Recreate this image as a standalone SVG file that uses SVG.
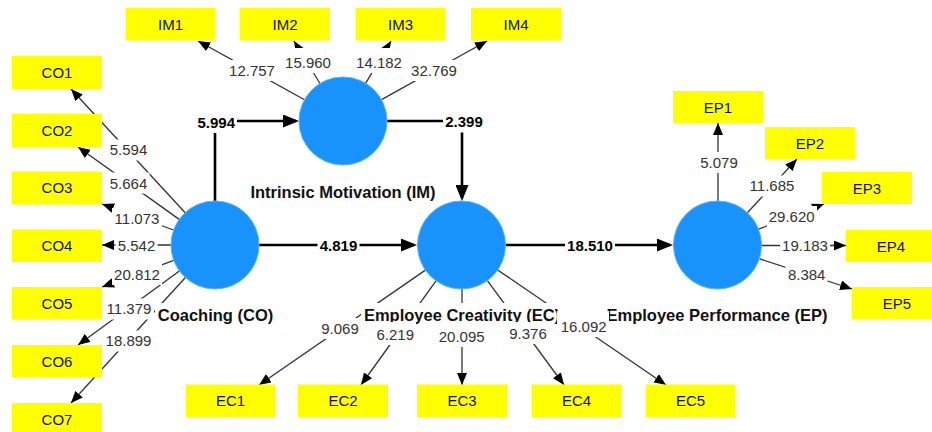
<svg xmlns="http://www.w3.org/2000/svg" width="932" height="432" viewBox="0 0 932 432">
<style>
text{font-family:"Liberation Sans",Arial,sans-serif}
.ind{stroke:#333;stroke-width:1.3;fill:none;marker-end:url(#ah)}
.str{stroke:#000;stroke-width:2.6;fill:none;marker-end:url(#ahb)}
.lv circle{fill:#1793fb;stroke:#5bb0fc;stroke-width:1}
.bx rect{fill:#ffff00}
.bx text{font-size:15px;fill:#111;text-anchor:middle}
.bg{fill:#fff}
.t{font-size:16.5px;font-weight:bold;fill:#111;text-anchor:middle}
.l{font-size:15px;fill:#333;text-anchor:middle}
.lb{font-size:15px;font-weight:bold;fill:#000;text-anchor:middle}
</style>
<defs>
<marker id="ah" viewBox="0 0 12 10" markerWidth="12" markerHeight="10" refX="12" refY="5" orient="auto" markerUnits="userSpaceOnUse"><path d="M0,0L12,5L0,10z" fill="#000"/></marker>
<marker id="ahb" viewBox="0 0 16 13" markerWidth="16" markerHeight="13" refX="13" refY="6.5" orient="auto" markerUnits="userSpaceOnUse"><path d="M0,0L16,6.5L0,13z" fill="#000"/></marker>
</defs>
<rect width="932" height="432" fill="#fff"/>
<g id="connectors">
<line class="ind" x1="304.5" y1="99.7" x2="198" y2="41"/>
<line class="ind" x1="320" y1="83.5" x2="294" y2="41"/>
<line class="ind" x1="365.6" y1="83.3" x2="391" y2="41"/>
<line class="ind" x1="381.5" y1="99.6" x2="487" y2="41"/>
<line class="ind" x1="185.2" y1="212.7" x2="71" y2="89"/>
<line class="ind" x1="179.2" y1="219.4" x2="78" y2="147"/>
<line class="ind" x1="173.6" y1="230" x2="102" y2="204"/>
<line class="ind" x1="171" y1="245" x2="102" y2="245"/>
<line class="ind" x1="173.8" y1="260.3" x2="102" y2="287"/>
<line class="ind" x1="179.4" y1="271" x2="78" y2="345"/>
<line class="ind" x1="185.4" y1="277.5" x2="71" y2="403"/>
<line class="ind" x1="425.4" y1="270.1" x2="259" y2="385"/>
<line class="ind" x1="436" y1="280.8" x2="361" y2="385"/>
<line class="ind" x1="462" y1="289" x2="462" y2="385"/>
<line class="ind" x1="487.4" y1="280.6" x2="564" y2="385"/>
<line class="ind" x1="497.7" y1="270" x2="666" y2="385"/>
<line class="ind" x1="718" y1="201" x2="718" y2="123"/>
<line class="ind" x1="747.4" y1="212.7" x2="797" y2="159"/>
<line class="ind" x1="758.6" y1="229.2" x2="824" y2="204"/>
<line class="ind" x1="761.5" y1="245.5" x2="846" y2="245.5"/>
<line class="ind" x1="759.3" y1="258.7" x2="852" y2="289"/>
<polyline class="str" points="215,201 215,121 296,121"/>
<polyline class="str" points="387,121 462,121 462,198"/>
<line class="str" x1="259" y1="245" x2="414" y2="245"/>
<line class="str" x1="506" y1="245" x2="670" y2="245"/>
</g>
<g id="node-co" class="lv"><circle cx="215" cy="245" r="44"/><rect class="bg" x="155" y="303" width="121" height="24"/><text class="t" x="215.5" y="321">Coaching (CO)</text></g>
<g id="node-im" class="lv"><circle cx="343" cy="121" r="44"/><rect class="bg" x="248" y="180" width="190" height="24"/><text class="t" x="343" y="198">Intrinsic Motivation (IM)</text></g>
<g id="node-ec" class="lv"><circle cx="461.5" cy="245" r="44"/><rect class="bg" x="361" y="303" width="202" height="22"/><text class="t" x="462" y="321">Employee Creativity (EC)</text></g>
<g id="node-ep" class="lv"><circle cx="717.5" cy="245" r="44"/><rect class="bg" x="605" y="303" width="225" height="24"/><text class="t" x="717" y="321">Employee Performance (EP)</text></g>
<g id="node-im1" class="bx"><rect x="126" y="8" width="89" height="32.5"/><text x="170.5" y="29.8">IM1</text></g>
<g id="node-im2" class="bx"><rect x="240" y="8" width="90" height="32.5"/><text x="285" y="29.8">IM2</text></g>
<g id="node-im3" class="bx"><rect x="356" y="8" width="89" height="32.5"/><text x="400.5" y="29.8">IM3</text></g>
<g id="node-im4" class="bx"><rect x="471" y="8" width="90" height="32.5"/><text x="516" y="29.8">IM4</text></g>
<g id="node-co1" class="bx"><rect x="12" y="56" width="90" height="33"/><text x="57" y="77.8">CO1</text></g>
<g id="node-co2" class="bx"><rect x="12" y="114" width="90" height="33"/><text x="57" y="135.8">CO2</text></g>
<g id="node-co3" class="bx"><rect x="12" y="171.5" width="90" height="33"/><text x="57" y="193.3">CO3</text></g>
<g id="node-co4" class="bx"><rect x="12" y="229.5" width="90" height="32.5"/><text x="57" y="251.2">CO4</text></g>
<g id="node-co5" class="bx"><rect x="12" y="287" width="90" height="32.5"/><text x="57" y="308.7">CO5</text></g>
<g id="node-co6" class="bx"><rect x="12" y="345" width="90" height="32.5"/><text x="57" y="366.7">CO6</text></g>
<g id="node-co7" class="bx"><rect x="12" y="403" width="90" height="32.5"/><text x="57" y="424.7">CO7</text></g>
<g id="node-ec1" class="bx"><rect x="186" y="384.5" width="89" height="32.5"/><text x="230.5" y="406.2">EC1</text></g>
<g id="node-ec2" class="bx"><rect x="298" y="384.5" width="90" height="32.5"/><text x="343" y="406.2">EC2</text></g>
<g id="node-ec3" class="bx"><rect x="417" y="384.5" width="90" height="32.5"/><text x="462" y="406.2">EC3</text></g>
<g id="node-ec4" class="bx"><rect x="532" y="384.5" width="89" height="32.5"/><text x="576.5" y="406.2">EC4</text></g>
<g id="node-ec5" class="bx"><rect x="646" y="384.5" width="89" height="32.5"/><text x="690.5" y="406.2">EC5</text></g>
<g id="node-ep1" class="bx"><rect x="673" y="91" width="90" height="32"/><text x="718" y="112.5">EP1</text></g>
<g id="node-ep2" class="bx"><rect x="765" y="127" width="90" height="32"/><text x="810" y="148.5">EP2</text></g>
<g id="node-ep3" class="bx"><rect x="822" y="172" width="90" height="32"/><text x="867" y="193.5">EP3</text></g>
<g id="node-ep4" class="bx"><rect x="846" y="230" width="90" height="32"/><text x="891" y="251.5">EP4</text></g>
<g id="node-ep5" class="bx"><rect x="852" y="287" width="90" height="32"/><text x="897" y="308.5">EP5</text></g>
<g id="connector-labels">
<rect class="bg" x="227" y="60" width="50" height="21"/><text class="l" x="252" y="76">12.757</text>
<rect class="bg" x="283" y="48" width="50" height="25"/><text class="l" x="308" y="68">15.960</text>
<rect class="bg" x="354" y="48" width="50" height="25"/><text class="l" x="379" y="68">14.182</text>
<rect class="bg" x="409" y="60" width="50" height="21"/><text class="l" x="434" y="76">32.769</text>
<rect class="bg" x="107.5" y="139.5" width="42" height="21"/><text class="l" x="128.5" y="155.4">5.594</text>
<rect class="bg" x="107.5" y="172.5" width="42" height="21"/><text class="l" x="128.5" y="188.6">5.664</text>
<rect class="bg" x="112" y="208" width="50" height="21"/><text class="l" x="137" y="224.4">11.073</text>
<rect class="bg" x="115.5" y="235" width="42" height="21"/><text class="l" x="136.5" y="251">5.542</text>
<rect class="bg" x="112" y="264" width="50" height="21"/><text class="l" x="137" y="279.6">20.812</text>
<rect class="bg" x="104" y="298.5" width="50" height="21"/><text class="l" x="129" y="314.4">11.379</text>
<rect class="bg" x="103.5" y="330.5" width="50" height="21"/><text class="l" x="128.5" y="346.4">18.899</text>
<rect class="bg" x="319" y="318" width="42" height="21"/><text class="l" x="340" y="334.3">9.069</text>
<rect class="bg" x="374" y="322" width="42" height="23"/><text class="l" x="395.3" y="340.4">6.219</text>
<rect class="bg" x="436.5" y="322" width="50" height="25"/><text class="l" x="461.7" y="342.2">20.095</text>
<rect class="bg" x="507" y="322" width="42" height="22"/><text class="l" x="528" y="338.7">9.376</text>
<rect class="bg" x="557" y="311" width="52" height="26"/><text class="l" x="583.7" y="332">16.092</text>
<rect class="bg" x="698" y="152" width="42" height="21"/><text class="l" x="719" y="168">5.079</text>
<rect class="bg" x="747" y="175.5" width="50" height="21"/><text class="l" x="772" y="191.4">11.685</text>
<rect class="bg" x="767" y="206" width="50" height="21"/><text class="l" x="791.7" y="222">29.620</text>
<rect class="bg" x="780" y="235" width="50" height="21"/><text class="l" x="805" y="251">19.183</text>
<rect class="bg" x="785.5" y="264" width="42" height="21"/><text class="l" x="806.7" y="279.7">8.384</text>
<rect class="bg" x="195" y="112" width="42" height="21"/><text class="lb" x="216.3" y="128">5.994</text>
<rect class="bg" x="443" y="111.5" width="42" height="21"/><text class="lb" x="464" y="127.4">2.399</text>
<rect class="bg" x="317.5" y="235.5" width="42" height="21"/><text class="lb" x="338.5" y="251.4">4.819</text>
<rect class="bg" x="565" y="235.5" width="50" height="21"/><text class="lb" x="590" y="251.4">18.510</text>
</g>
</svg>
